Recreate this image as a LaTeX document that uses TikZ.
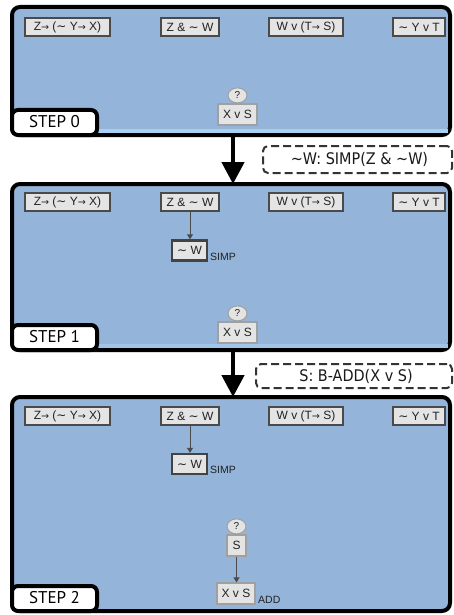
\documentclass[tikz,border=0pt]{standalone}
\usepackage{fontspec}
\setmainfont{Liberation Sans}
\newfontfamily\symfont{DejaVu Sans}
\newfontfamily\labfont{PT Sans}
\usetikzlibrary{arrows.meta,shapes.geometric}
\definecolor{panelblue}{HTML}{94B4D9}
\definecolor{striplight}{HTML}{A9CFF3}
\definecolor{boxfill}{HTML}{E4E4E4}
\definecolor{boxborder}{HTML}{4A4A4A}
\definecolor{goalborder}{HTML}{A0A0A0}
\definecolor{formtext}{HTML}{222222}
\newcommand{\impl}{{\symfont\scalebox{0.8}{→}}}
\newcommand{\tild}{{\symfont ∼}}
\newcommand{\ruletxt}[1]{\scalebox{0.9}[1]{\symfont\fontsize{16}{18}\selectfont #1}}
\begin{document}
\begin{tikzpicture}[x=1pt,y=-1pt,
  panel/.style={draw=black,line width=4pt,fill=panelblue,rounded corners=8pt,inner sep=0pt,outer sep=0pt,anchor=north west,minimum width=438pt},
  steplab/.style={draw=black,line width=4pt,fill=white,rounded corners=6pt,inner sep=0pt,outer sep=0pt,anchor=south west,minimum width=85pt,minimum height=25pt},
  steptext/.style={font=\labfont\fontsize{17}{19}\selectfont,inner sep=0pt},
  fbox/.style={draw=boxborder,line width=1.4pt,fill=boxfill,inner sep=0pt,minimum height=18pt,text=formtext,font=\fontsize{12}{14}\selectfont},
  derived/.style={fbox,line width=2.4pt,draw=boxborder!90!black,minimum height=20pt},
  goal/.style={draw=goalborder,line width=1.2pt,fill=boxfill,inner sep=0pt,minimum height=21pt,text=formtext,font=\fontsize{12}{14}\selectfont},
  qmark/.style={ellipse,draw=goalborder,line width=1pt,fill=boxfill,inner sep=0pt,minimum width=19pt,minimum height=15pt,text=formtext,font=\fontsize{10}{11}\selectfont},
  rulelab/.style={font=\fontsize{10.5}{12}\selectfont,text=formtext,inner sep=0pt,anchor=west},
  thinarrow/.style={draw=boxborder,line width=1pt,-{Triangle[width=6pt,length=5pt]}},
  bigarrow/.style={draw=black,line width=4.5pt,-{Triangle[width=22pt,length=22pt]}},
  rulebox/.style={draw=black!80,line width=2pt,dash pattern=on 8pt off 4pt,rounded corners=5pt,inner sep=0pt,anchor=north west},
  ruletext/.style={inner sep=0pt,text=black!90}
]
\useasboundingbox (0,0) rectangle (454,615);

% ---------- panels ----------
\node[panel,minimum height=128pt] (p0) at (12,7) {};
\fill[striplight] (99,129) rectangle (448,132.5);
\node[panel,minimum height=166pt] (p1) at (12,184) {};
\fill[striplight!60!panelblue] (99,344) rectangle (448,348);
\node[panel,minimum height=214pt] (p2) at (12,397) {};

% ---------- step labels ----------
\node[steplab] (s0) at (p0.south west) {};
\node[steptext] (t0) at (54.5,122) {STEP 0};
\node[steplab] (s1) at (p1.south west) {};
\node[steptext] (t1) at (54.5,337) {STEP 1};
\node[steplab] (s2) at (p2.south west) {};
\node[steptext] (t2) at (54.5,598) {STEP 2};

% ---------- big arrows and rule boxes ----------
\draw[bigarrow] ([xshift=2pt]p0.south) -- ([xshift=2pt]p1.north);
\draw[bigarrow] ([xshift=2pt]p1.south) -- ([xshift=2pt]p2.north);
\node[rulebox,minimum width=189pt,minimum height=27pt] (r1) at (262,145) {};
\node[ruletext] (r1t) at ([xshift=2pt]r1.center) {\ruletxt{\textasciitilde W: SIMP(Z \& \textasciitilde W)}};
\node[rulebox,minimum width=196pt,minimum height=24pt] (r2) at (255,363) {};
\node[ruletext] (r2t) at ([xshift=2pt]r2.center) {\ruletxt{S: B-ADD(X v S)}};

% ---------- panel 0 ----------
\node[fbox,minimum width=85pt] (a0) at (67.5,27) {Z\impl{} (\tild{} Y\impl{} X)};
\node[fbox,minimum width=58pt] (b0) at (190,27) {Z \& \tild{} W};
\node[fbox,minimum width=74pt] (c0) at (306,27) {W v (T\impl{} S)};
\node[fbox,minimum width=52pt] (d0) at (419,27) {\tild{} Y v T};
\node[goal,minimum width=39pt] (g0) at (237.5,114.5) {X v S};
\node[qmark,anchor=south] (q0) at (g0.north) {?};

% ---------- panel 1 ----------
\node[fbox,minimum width=85pt] (a1) at (67.5,202) {Z\impl{} (\tild{} Y\impl{} X)};
\node[fbox,minimum width=58pt] (b1) at (190,202) {Z \& \tild{} W};
\node[fbox,minimum width=74pt] (c1) at (306,202) {W v (T\impl{} S)};
\node[fbox,minimum width=52pt] (d1) at (419,202) {\tild{} Y v T};
\node[derived,minimum width=35pt] (w1) at (189.5,250.5) {\tild{} W};
\node[rulelab] (w1l) at (210,257) {SIMP};
\draw[thinarrow] (b1.south) -- (b1.south |- w1.north);
\node[goal,minimum width=39pt] (g1) at (237.5,332.5) {X v S};
\node[qmark,anchor=south] (q1) at (g1.north) {?};

% ---------- panel 2 ----------
\node[fbox,minimum width=85pt] (a2) at (67.5,416) {Z\impl{} (\tild{} Y\impl{} X)};
\node[fbox,minimum width=58pt] (b2) at (190,416) {Z \& \tild{} W};
\node[fbox,minimum width=74pt] (c2) at (306,416) {W v (T\impl{} S)};
\node[fbox,minimum width=52pt] (d2) at (419,416) {\tild{} Y v T};
\node[derived,minimum width=35pt] (w2) at (189.5,464) {\tild{} W};
\node[rulelab] (w2l) at (210,470) {SIMP};
\draw[thinarrow] (b2.south) -- (b2.south |- w2.north);
\node[goal,minimum width=19pt] (sg2) at (236.5,545.5) {S};
\node[qmark,anchor=south] (q2) at (sg2.north) {?};
\node[goal,minimum width=38pt] (g2) at (236,593.5) {X v S};
\node[rulelab] (g2l) at (258,600) {ADD};
\draw[thinarrow] (sg2.south) -- (sg2.south |- g2.north);
\end{tikzpicture}
\end{document}
